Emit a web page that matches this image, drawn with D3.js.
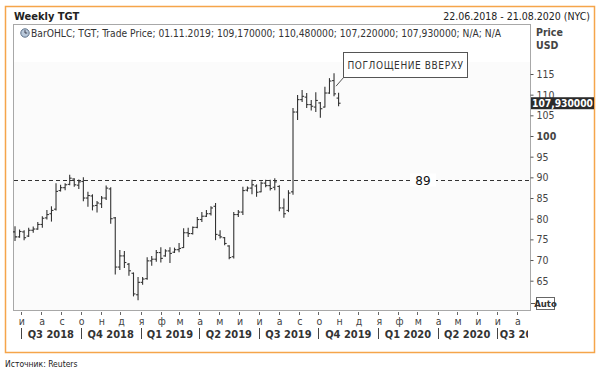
<!DOCTYPE html>
<html>
<head>
<meta charset="utf-8">
<script src="https://cdn.jsdelivr.net/npm/d3@7"></script>
<style>
  body { margin: 0; background: #fff; }
  svg { display: block; font-family: "DejaVu Sans Condensed", "DejaVu Sans", sans-serif; }
</style>
</head>
<body>
<svg id="chart" width="600" height="371"></svg>
<script>
// weekly bars, TGT, trade price (USD)
var weeks = [
    "22.06.2018","29.06.2018","06.07.2018","13.07.2018","20.07.2018","27.07.2018","03.08.2018","10.08.2018",
    "17.08.2018","24.08.2018","31.08.2018","07.09.2018","14.09.2018","21.09.2018","28.09.2018","05.10.2018",
    "12.10.2018","19.10.2018","26.10.2018","02.11.2018","09.11.2018","16.11.2018","23.11.2018","30.11.2018",
    "07.12.2018","14.12.2018","21.12.2018","28.12.2018","04.01.2019","11.01.2019","18.01.2019","25.01.2019",
    "01.02.2019","08.02.2019","15.02.2019","22.02.2019","01.03.2019","08.03.2019","15.03.2019","22.03.2019",
    "29.03.2019","05.04.2019","12.04.2019","19.04.2019","26.04.2019","03.05.2019","10.05.2019","17.05.2019",
    "24.05.2019","31.05.2019","07.06.2019","14.06.2019","21.06.2019","28.06.2019","05.07.2019","12.07.2019",
    "19.07.2019","26.07.2019","02.08.2019","09.08.2019","16.08.2019","23.08.2019","30.08.2019","06.09.2019",
    "13.09.2019","20.09.2019","27.09.2019","04.10.2019","11.10.2019","18.10.2019","25.10.2019","01.11.2019"
];
var open = [76.8,75.6,76.8,75.8,77.2,77.5,78.6,80.2,81.2,82.3,86.8,87.5,88.3,89.6,88.1,89.0,
    85.0,85.5,83.2,83.6,85.0,87.2,80.2,68.3,71.0,69.0,66.8,61.6,64.6,65.5,69.8,70.2,
    71.8,71.0,72.2,71.9,72.5,73.0,76.6,76.4,77.9,79.8,80.6,81.2,83.0,76.0,75.4,73.4,
    70.8,81.0,81.6,86.9,87.4,87.9,86.5,88.6,88.0,87.6,87.8,82.6,82.0,86.5,105.8,108.8,
    109.4,107.6,107.0,108.0,107.0,110.4,113.4,109.17];
var high = [78.2,77.4,77.2,77.8,78.1,79.2,80.6,82.1,83.0,88.6,88.2,88.6,90.6,89.8,89.5,90.0,
    86.5,85.9,84.3,85.5,88.0,87.6,80.4,72.4,72.2,69.3,67.0,65.9,65.9,70.7,71.0,72.4,
    73.1,72.6,73.1,73.0,74.1,77.7,77.8,78.1,80.4,81.6,82.1,83.0,83.8,77.2,75.6,73.6,
    81.6,82.1,87.7,87.8,89.4,88.3,89.0,89.4,89.4,89.8,88.1,84.9,86.9,106.8,109.9,111.1,
    110.4,108.7,110.6,108.2,111.9,114.0,115.2,110.48];
var low = [74.6,75.4,74.8,75.6,76.6,77.3,77.8,79.8,79.3,82.0,86.6,86.9,88.1,87.7,87.2,84.2,
    82.9,82.0,81.5,82.6,84.5,78.8,66.5,67.6,68.1,66.2,61.2,60.3,64.0,65.2,68.6,69.6,
    69.4,70.8,69.3,71.7,71.9,72.9,75.6,76.2,77.7,79.2,80.4,80.8,74.8,75.2,73.6,70.2,
    70.4,80.4,80.9,86.6,85.9,85.3,86.4,87.6,86.8,86.9,81.8,80.2,81.6,85.8,103.9,108.2,
    106.8,106.2,105.8,104.4,106.9,110.2,109.6,107.22];
var close = [75.6,76.9,75.4,77.2,77.5,78.6,80.1,81.0,82.0,86.6,87.5,88.2,89.8,88.2,88.9,85.0,
    85.6,83.1,83.8,85.0,87.4,80.0,68.3,71.0,69.4,67.4,61.8,64.6,65.4,69.8,70.2,71.8,
    70.4,72.2,71.6,72.5,72.8,76.6,76.4,77.9,79.8,80.6,81.2,82.6,76.2,75.6,74.0,70.6,
    81.0,81.6,86.8,87.4,88.2,86.4,88.6,88.0,87.3,88.9,82.6,81.2,86.2,105.8,108.8,109.6,
    107.6,107.2,108.6,106.6,110.4,113.3,110.2,107.93];

var monthLetters = ["я", "ф", "м", "а", "м", "и", "и", "а", "с", "о", "н", "д"];
var levelValue = 89.3,
    levelLabel = "89";
var lastPrice = 107.93;
var annotation = "ПОГЛОЩЕНИЕ ВВЕРХУ";
var legendText = "BarOHLC; TGT; Trade Price; 01.11.2019; 109,170000; 110,480000; 107,220000; 107,930000; N/A; N/A";

var parseDay = d3.timeParse("%d.%m.%Y");
var bars = weeks.map(function (w, i) {
    return { date: parseDay(w), o: open[i], h: high[i], l: low[i], c: close[i] };
});

var svg = d3.select("#chart");
var plot = { left: 13, right: 530, top: 24, bottom: 310 };

var x = d3.scaleTime()
    .domain([parseDay("22.06.2018"), parseDay("21.08.2020")])
    .range([15, plot.right]);
var y = d3.scaleLinear()
    .domain([65, 115])
    .range([280.7, 74]);

// outer frame
svg.append("rect")
    .attr("x", 5.5).attr("y", 6.5).attr("width", 589).attr("height", 346)
    .attr("fill", "#fff").attr("stroke", "#f5a54a").attr("stroke-width", 1.5);

svg.append("text").attr("x", 14).attr("y", 20)
    .attr("font-size", 11).attr("font-weight", "bold").attr("fill", "#222")
    .text("Weekly TGT");
svg.append("text").attr("x", 590).attr("y", 20).attr("text-anchor", "end")
    .attr("font-size", 10.5).attr("fill", "#222")
    .text("22.06.2018 - 21.08.2020 (NYC)");

// plot box
svg.append("rect")
    .attr("x", plot.left + 0.5).attr("y", 62)
    .attr("width", plot.right - plot.left).attr("height", plot.bottom - 62)
    .attr("fill", "#fbfbfb");
svg.append("rect")
    .attr("x", plot.left + 0.5).attr("y", plot.top + 0.5)
    .attr("width", plot.right - plot.left).attr("height", plot.bottom - plot.top)
    .attr("fill", "none").attr("stroke", "#a8a8a8");

// legend line
var icon = svg.append("g").attr("transform", "translate(25,33)");
icon.append("circle").attr("r", 4.2).attr("fill", "#b8c8da").attr("stroke", "#5a6f88");
icon.append("path").attr("d", "M0,-2.8V0H2.2").attr("fill", "none").attr("stroke", "#334").attr("stroke-width", 0.9);
svg.append("text").attr("x", 31).attr("y", 37)
    .attr("font-size", 10.5).attr("fill", "#333")
    .attr("textLength", 470).attr("lengthAdjust", "spacingAndGlyphs")
    .text(legendText);

// level line
var ly = Math.round(y(levelValue)) + 0.5;
svg.append("line")
    .attr("x1", plot.left + 1).attr("x2", plot.right).attr("y1", ly).attr("y2", ly)
    .attr("stroke", "#333").attr("stroke-dasharray", "4,3");
svg.append("rect").attr("x", 410).attr("y", ly - 7).attr("width", 26).attr("height", 13).attr("fill", "#fff");
svg.append("text").attr("x", 423).attr("y", ly + 4.5).attr("text-anchor", "middle")
    .attr("font-family", "DejaVu Sans").attr("font-size", 12).attr("fill", "#111")
    .text(levelLabel);

// OHLC bars
var bar = svg.append("g").selectAll("g")
    .data(bars)
    .enter().append("g")
    .attr("stroke", "#333")
    .attr("stroke-width", 1.1);
bar.append("line")
    .attr("x1", function (d) { return x(d.date); })
    .attr("x2", function (d) { return x(d.date); })
    .attr("y1", function (d) { return y(d.h); })
    .attr("y2", function (d) { return y(d.l); });
bar.append("line")
    .attr("x1", function (d) { return x(d.date) - 2; })
    .attr("x2", function (d) { return x(d.date); })
    .attr("y1", function (d) { return y(d.o); })
    .attr("y2", function (d) { return y(d.o); });
bar.append("line")
    .attr("x1", function (d) { return x(d.date); })
    .attr("x2", function (d) { return x(d.date) + 2; })
    .attr("y1", function (d) { return y(d.c); })
    .attr("y2", function (d) { return y(d.c); });

// annotation box, pointing at the top bar
var topBar = bars[70];
svg.append("line")
    .attr("x1", 344).attr("y1", 77).attr("x2", x(topBar.date) + 2).attr("y2", y(topBar.h) + 13)
    .attr("stroke", "#555");
svg.append("rect").attr("x", 343.5).attr("y", 52.5).attr("width", 124).attr("height", 25)
    .attr("fill", "#fff").attr("stroke", "#555");
svg.append("text").attr("x", 405.5).attr("y", 69).attr("text-anchor", "middle")
    .attr("font-size", 10).attr("letter-spacing", 0.6).attr("fill", "#333")
    .text(annotation);

// y axis
svg.append("text").attr("x", 536).attr("y", 36).attr("font-size", 10.5).attr("font-weight", "bold").attr("fill", "#444").text("Price");
svg.append("text").attr("x", 536).attr("y", 49).attr("font-size", 10.5).attr("font-weight", "bold").attr("fill", "#444").text("USD");

var yAxis = svg.append("g")
    .attr("transform", "translate(" + (plot.right + 0.5) + ",0)")
    .call(d3.axisRight(y).ticks(10).tickSize(3).tickPadding(3));
yAxis.select(".domain").remove();
yAxis.selectAll(".tick line").attr("stroke", "#555");
yAxis.selectAll(".tick text")
    .attr("font-family", "DejaVu Sans Condensed, DejaVu Sans, sans-serif")
    .attr("font-size", 10.5).attr("fill", "#444")
    .attr("font-weight", function (d) { return d === 100 ? "bold" : "normal"; });

var py = y(lastPrice);
svg.append("rect").attr("x", 531).attr("y", py - 6).attr("width", 63).attr("height", 12).attr("fill", "#2b2b2b");
svg.append("text").attr("x", 532).attr("y", py + 4).attr("font-size", 10.5).attr("font-weight", "bold")
    .attr("textLength", 61).attr("lengthAdjust", "spacingAndGlyphs")
    .attr("fill", "#fff").text("107,930000");

svg.append("line").attr("x1", 531).attr("x2", 535).attr("y1", 303.5).attr("y2", 303.5).attr("stroke", "#555");
svg.append("rect").attr("x", 536.5).attr("y", 297.5).attr("width", 18).attr("height", 12)
    .attr("fill", "#fff").attr("stroke", "#666");
svg.append("text").attr("x", 545.5).attr("y", 307).attr("text-anchor", "middle")
    .attr("font-size", 9.5).attr("font-weight", "bold").attr("fill", "#333").text("Auto");

// x axis: months and quarters
svg.append("clipPath").attr("id", "xclip")
    .append("rect").attr("x", plot.left).attr("y", 310).attr("width", plot.right - plot.left - 2).attr("height", 40);
var xa = svg.append("g").attr("clip-path", "url(#xclip)");
var months = d3.timeMonth.range(new Date(2018, 6, 1), new Date(2020, 8, 1));
xa.selectAll(".mtick").data(months).enter().append("line")
    .attr("x1", function (d) { return Math.round(x(d)) + 0.5; })
    .attr("x2", function (d) { return Math.round(x(d)) + 0.5; })
    .attr("y1", 312).attr("y2", 315).attr("stroke", "#666");
xa.selectAll(".mlab").data(months).enter().append("text")
    .attr("x", function (d) { return x(d) + 1; })
    .attr("y", 325).attr("text-anchor", "middle")
    .attr("font-size", 10.5).attr("fill", "#444")
    .text(function (d) { return monthLetters[d.getMonth()]; });

var quarters = d3.timeMonth.every(3).range(new Date(2018, 6, 1), new Date(2020, 8, 1));
xa.selectAll(".qsep").data(quarters).enter().append("line")
    .attr("x1", function (d) { return Math.round(x(d)) + 0.5; })
    .attr("x2", function (d) { return Math.round(x(d)) + 0.5; })
    .attr("y1", 328).attr("y2", 339).attr("stroke", "#444");
xa.selectAll(".qlab").data(quarters).enter().append("text")
    .each(function (d) {
        var start = x(d),
            mid = (start + x(d3.timeMonth.offset(d, 3))) / 2,
            t = d3.select(this);
        if (mid + 22 > plot.right) t.attr("x", start + 3).attr("text-anchor", "start");
        else t.attr("x", mid).attr("text-anchor", "middle");
    })
    .attr("y", 338)
    .attr("font-size", 11).attr("font-weight", "bold").attr("fill", "#333")
    .text(function (d) { return "Q" + (Math.floor(d.getMonth() / 3) + 1) + " " + d.getFullYear(); });

svg.append("text").attr("x", 5).attr("y", 367).attr("font-size", 8.5).attr("fill", "#222")
    .text("Источник: Reuters");
</script>
</body>
</html>
